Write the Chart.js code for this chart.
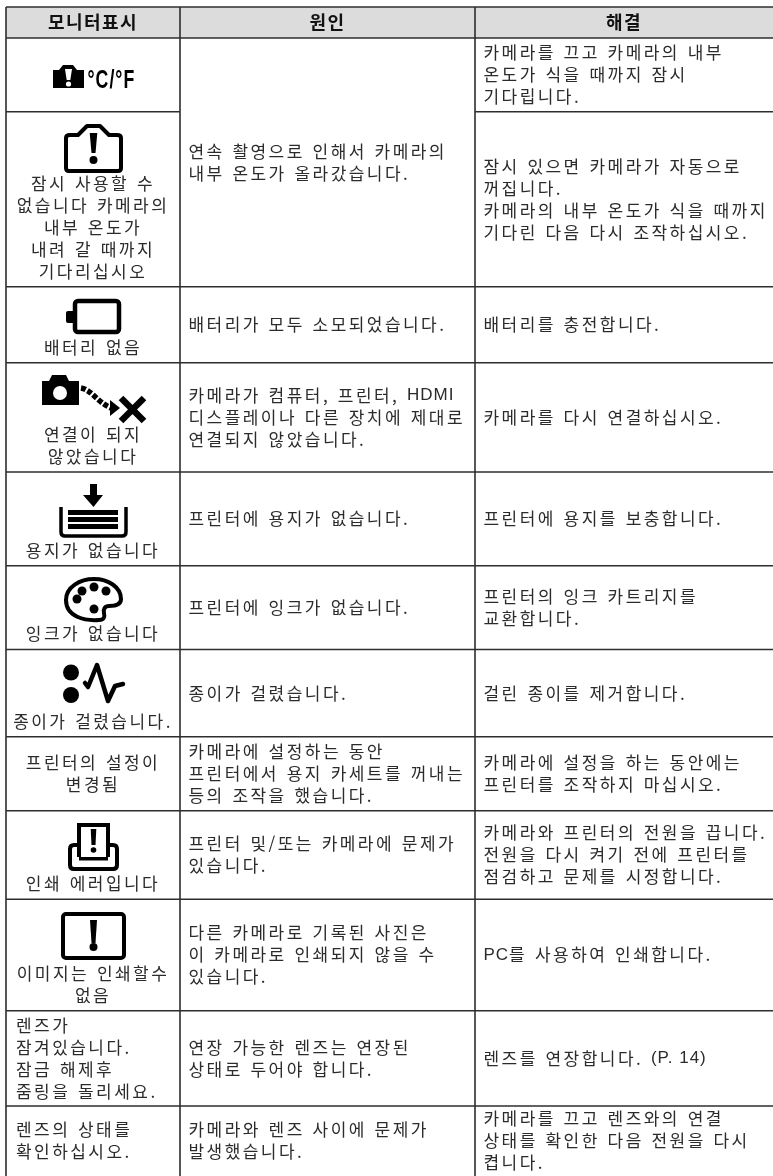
<!DOCTYPE html>
<html lang="ko">
<head>
<meta charset="utf-8">
<style>
    html, body { margin: 0; padding: 0; background: #fff; overflow: hidden; }
    .chart-container { position: relative; width: 773px; height: 1176px; }
</style>
</head>
<body>
<div class="chart-container">
    <canvas id="tableChart"></canvas>
</div>

<script src="https://cdn.jsdelivr.net/npm/chart.js"></script>

<script>
// Table content
const HEADERS = ['모니터표시', '원인', '해결'];

const MONITOR_LINES = [
    [],
    ['잠시 사용할 수', '없습니다 카메라의', '내부 온도가', '내려 갈 때까지', '기다리십시오'],
    ['배터리 없음'],
    ['연결이 되지', '않았습니다'],
    ['용지가 없습니다'],
    ['잉크가 없습니다'],
    ['종이가 걸렸습니다.'],
    ['프린터의 설정이', '변경됨'],
    ['인쇄 에러입니다'],
    ['이미지는 인쇄할수', '없음'],
    ['렌즈가', '잠겨있습니다.', '잠금 해제후', '줌링을 돌리세요.'],
    ['렌즈의 상태를', '확인하십시오.']
];

// null = merged with the row above
const CAUSE_LINES = [
    ['연속 촬영으로 인해서 카메라의', '내부 온도가 올라갔습니다.'],
    null,
    ['배터리가 모두 소모되었습니다.'],
    ['카메라가 컴퓨터, 프린터, HDMI', '디스플레이나 다른 장치에 제대로', '연결되지 않았습니다.'],
    ['프린터에 용지가 없습니다.'],
    ['프린터에 잉크가 없습니다.'],
    ['종이가 걸렸습니다.'],
    ['카메라에 설정하는 동안', '프린터에서 용지 카세트를 꺼내는', '등의 조작을 했습니다.'],
    ['프린터 및/또는 카메라에 문제가', '있습니다.'],
    ['다른 카메라로 기록된 사진은', '이 카메라로 인쇄되지 않을 수', '있습니다.'],
    ['연장 가능한 렌즈는 연장된', '상태로 두어야 합니다.'],
    ['카메라와 렌즈 사이에 문제가', '발생했습니다.']
];

const FIX_LINES = [
    ['카메라를 끄고 카메라의 내부', '온도가 식을 때까지 잠시', '기다립니다.'],
    ['잠시 있으면 카메라가 자동으로', '꺼집니다.', '카메라의 내부 온도가 식을 때까지', '기다린 다음 다시 조작하십시오.'],
    ['배터리를 충전합니다.'],
    ['카메라를 다시 연결하십시오.'],
    ['프린터에 용지를 보충합니다.'],
    ['프린터의 잉크 카트리지를', '교환합니다.'],
    ['걸린 종이를 제거합니다.'],
    ['카메라에 설정을 하는 동안에는', '프린터를 조작하지 마십시오.'],
    ['카메라와 프린터의 전원을 끕니다.', '전원을 다시 켜기 전에 프린터를', '점검하고 문제를 시정합니다.'],
    ['PC를 사용하여 인쇄합니다.'],
    ['렌즈를 연장합니다. (P. 14)'],
    ['카메라를 끄고 렌즈와의 연결', '상태를 확인한 다음 전원을 다시', '켭니다.']
];

// Column and row boundaries
const COLUMN_EDGES = [6, 180, 475, 773];
const ROW_EDGES = [7, 38, 111.7, 286.7, 362.7, 472, 565.7, 649.5, 736.7, 810.7, 899.3, 1010.7, 1106, 1176];

// Monitor column rows without an icon use these left-aligned rows
const LEFT_ALIGNED_ROWS = [10, 11];

const TEXT_COLOR = '#2b2b2b';
const RULE_COLOR = '#2e2e2e';
const LINE_PITCH = 22;

function disc(c, x, y, r) {
    c.beginPath();
    c.arc(x, y, r, 0, Math.PI * 2);
    c.fill();
}

function bang(c, x, top, bottom, halfTop, halfBottom, dotY, dotR) {
    c.beginPath();
    c.moveTo(x - halfTop, top);
    c.lineTo(x + halfTop, top);
    c.lineTo(x + halfBottom, bottom);
    c.lineTo(x - halfBottom, bottom);
    c.closePath();
    c.fill();
    disc(c, x, dotY, dotR);
}

// Icons are sketched in page units; each gets its own canvas used as a pointStyle
const ICONS = [
    { box: [52, 64, 33, 25], draw(c) {
        c.beginPath();
        c.moveTo(53, 70); c.lineTo(59, 70); c.lineTo(63, 65); c.lineTo(73, 65); c.lineTo(77, 70); c.lineTo(84, 70);
        c.lineTo(84, 88); c.lineTo(53, 88);
        c.closePath();
        c.fill();
        c.fillStyle = '#fff';
        bang(c, 68.5, 69, 80, 3.5, 1.8, 84, 2.6);
    } },
    { box: [62, 122, 63, 53], draw(c) {
        c.lineWidth = 4;
        c.lineJoin = 'round';
        c.beginPath();
        c.moveTo(66, 138); c.quadraticCurveTo(66, 135, 70, 135); c.lineTo(78, 135);
        c.lineTo(87, 126); c.lineTo(100, 126); c.lineTo(109, 135); c.lineTo(117, 135);
        c.quadraticCurveTo(121, 135, 121, 138); c.lineTo(121, 168);
        c.quadraticCurveTo(121, 171, 118, 171); c.lineTo(69, 171);
        c.quadraticCurveTo(66, 171, 66, 168);
        c.closePath();
        c.stroke();
        bang(c, 93.5, 133, 153, 3.8, 2, 160, 4);
    } },
    { box: [65, 298, 58, 38], draw(c) {
        c.beginPath();
        c.roundRect(66, 311, 9, 12, 2);
        c.fill();
        c.lineWidth = 4.5;
        c.beginPath();
        c.roundRect(75, 301, 44, 31, 3);
        c.stroke();
    } },
    { box: [41, 374, 106, 50], draw(c) {
        c.beginPath();
        c.moveTo(42, 381); c.lineTo(49, 381); c.lineTo(52, 375); c.lineTo(66, 375); c.lineTo(69, 381); c.lineTo(79, 381);
        c.lineTo(79, 405); c.lineTo(42, 405);
        c.closePath();
        c.fill();
        c.fillStyle = '#fff';
        disc(c, 60, 393, 7);
        c.fillStyle = '#000';
        c.lineWidth = 5.5;
        c.setLineDash([5, 2]);
        c.beginPath();
        c.moveTo(81, 388); c.bezierCurveTo(92, 390, 97, 402, 111, 408);
        c.stroke();
        c.setLineDash([]);
        c.beginPath();
        c.moveTo(110, 400); c.lineTo(120, 408); c.lineTo(110, 416);
        c.closePath();
        c.fill();
        c.lineWidth = 6.5;
        c.beginPath();
        c.moveTo(121, 398); c.lineTo(144, 421); c.moveTo(144, 398); c.lineTo(121, 421);
        c.stroke();
    } },
    { box: [58, 483, 70, 56], draw(c) {
        c.fillRect(90, 484, 7, 11);
        c.beginPath();
        c.moveTo(83, 495); c.lineTo(103, 495); c.lineTo(93.5, 507);
        c.closePath();
        c.fill();
        c.lineWidth = 3.5;
        c.beginPath();
        c.moveTo(61, 507); c.lineTo(61, 532);
        c.quadraticCurveTo(61, 536, 65, 536); c.lineTo(122, 536);
        c.quadraticCurveTo(126, 536, 126, 532); c.lineTo(126, 507);
        c.stroke();
        c.fillRect(68, 510, 50, 5);
        c.fillRect(68, 517, 50, 5);
        c.fillRect(68, 524, 50, 5);
    } },
    { box: [62, 575, 63, 49], draw(c) {
        c.lineWidth = 4;
        c.beginPath();
        c.moveTo(66, 600);
        c.bezierCurveTo(66, 587, 80, 579, 94, 579);
        c.bezierCurveTo(108, 579, 121, 587, 121, 599);
        c.bezierCurveTo(121, 606, 113, 606, 109, 606);
        c.bezierCurveTo(105, 606, 103, 609, 104, 613);
        c.bezierCurveTo(105, 617, 104, 620, 99, 620);
        c.bezierCurveTo(85, 621, 66, 617, 66, 600);
        c.closePath();
        c.stroke();
        disc(c, 77, 599, 4.5);
        disc(c, 82, 591, 4.5);
        disc(c, 94, 587, 4.5);
        disc(c, 106, 591, 4.5);
        disc(c, 94, 609, 4.5);
    } },
    { box: [61, 662, 65, 44], draw(c) {
        disc(c, 71, 672.5, 8);
        disc(c, 71, 695, 8);
        c.lineWidth = 4.5;
        c.lineCap = 'round';
        c.lineJoin = 'round';
        c.beginPath();
        c.moveTo(85, 683); c.lineTo(88, 687); c.lineTo(97, 665); c.lineTo(108, 701); c.lineTo(115, 686); c.lineTo(123, 684);
        c.stroke();
    } },
    { box: [67, 822, 53, 50], draw(c) {
        c.lineWidth = 4;
        c.beginPath();
        c.moveTo(79, 857); c.lineTo(79, 825); c.lineTo(108, 825); c.lineTo(108, 857);
        c.stroke();
        c.beginPath();
        c.moveTo(79, 845); c.lineTo(74, 845);
        c.quadraticCurveTo(70, 845, 70, 849); c.lineTo(70, 865);
        c.quadraticCurveTo(70, 869, 74, 869); c.lineTo(113, 869);
        c.quadraticCurveTo(117, 869, 117, 865); c.lineTo(117, 849);
        c.quadraticCurveTo(117, 845, 113, 845); c.lineTo(108, 845);
        c.stroke();
        c.fillRect(79, 857, 29, 3.5);
        bang(c, 93.5, 829, 845, 2.8, 2, 850, 2.8);
    } },
    { box: [60, 911, 67, 50], draw(c) {
        c.lineWidth = 4;
        c.beginPath();
        c.roundRect(63, 914, 61, 44, 3);
        c.stroke();
        bang(c, 93.5, 920, 943, 3.5, 2, 947, 4);
    } }
];

function buildIconCanvas(icon) {
    const [x, y, w, h] = icon.box;
    const canvas = document.createElement('canvas');
    canvas.width = w;
    canvas.height = h;
    const c = canvas.getContext('2d');
    c.fillStyle = '#000';
    c.strokeStyle = '#000';
    c.translate(-x, -y);
    icon.draw(c);
    return canvas;
}

const iconCanvases = ICONS.map(buildIconCanvas);
const iconPoints = ICONS.map(icon => ({
    x: icon.box[0] + icon.box[2] / 2,
    y: icon.box[1] + icon.box[3] / 2
}));

// Rules of the table. Row edges stop at the merged cause cell.
function buildRuleDatasets() {
    const rules = [];
    const right = COLUMN_EDGES[COLUMN_EDGES.length - 1];
    const addRule = (x1, y1, x2, y2) => rules.push({
        data: [{ x: x1, y: y1 }, { x: x2, y: y2 }],
        borderColor: RULE_COLOR,
        borderWidth: 1.6,
        pointRadius: 0,
        fill: false
    });
    ROW_EDGES.slice(0, -1).forEach((edge, i) => {
        const rowBelow = i - 1;
        if (rowBelow >= 0 && CAUSE_LINES[rowBelow] === null) {
            addRule(COLUMN_EDGES[0], edge, COLUMN_EDGES[1], edge);
            addRule(COLUMN_EDGES[2], edge, right, edge);
        } else {
            addRule(COLUMN_EDGES[0], edge, right, edge);
        }
    });
    COLUMN_EDGES.slice(0, -1).forEach(x => addRule(x, ROW_EDGES[0], x, ROW_EDGES[ROW_EDGES.length - 1]));
    return rules;
}

// Hangul gets the wide spacing of the original, latin runs are set in Liberation Sans
const LATIN_RUN = /([A-Za-z(][A-Za-z0-9(). ]*[A-Za-z0-9)])/;

function splitRuns(line) {
    return line.split(LATIN_RUN).filter(Boolean).map(text => ({ text, latin: LATIN_RUN.test(text) }));
}

function applyRunStyle(c, run, bold) {
    if (run.latin) {
        c.font = '17px "Liberation Sans"';
        c.letterSpacing = '1px';
        c.wordSpacing = '0px';
    } else if (bold) {
        c.font = 'bold 18px "Noto Sans CJK KR"';
        c.letterSpacing = '1.4px';
        c.wordSpacing = '1.5px';
    } else {
        c.font = '17px "Noto Sans CJK KR"';
        c.letterSpacing = '2.45px';
        c.wordSpacing = '1.5px';
    }
}

function drawLine(c, line, x, y, align, bold) {
    const runs = splitRuns(line);
    runs.forEach(run => {
        applyRunStyle(c, run, bold);
        run.width = c.measureText(run.text).width;
    });
    const total = runs.reduce((sum, run) => sum + run.width, 0);
    let cursor = align === 'center' ? x - total / 2 : x;
    runs.forEach(run => {
        applyRunStyle(c, run, bold);
        c.fillText(run.text, cursor, y);
        cursor += run.width;
    });
}

const tableTextPlugin = {
    id: 'tableText',
    afterDatasetsDraw(chart) {
        const c = chart.ctx;
        const xs = chart.scales.x;
        const ys = chart.scales.y;
        const columnCenter = i => (COLUMN_EDGES[i] + COLUMN_EDGES[i + 1]) / 2;

        c.save();
        c.fillStyle = TEXT_COLOR;
        c.textBaseline = 'middle';
        c.textAlign = 'left';

        const drawBlock = (lines, xValue, align, top, bottom, valign) => {
            const count = lines.length;
            const firstY = valign === 'bottom'
                ? bottom - 15.5 - (count - 1) * LINE_PITCH
                : (top + bottom) / 2 - (count - 1) * LINE_PITCH / 2;
            lines.forEach((line, i) => {
                drawLine(c, line, xs.getPixelForValue(xValue), ys.getPixelForValue(firstY + i * LINE_PITCH), align, false);
            });
        };

        // header
        c.fillStyle = '#111';
        HEADERS.forEach((label, i) => {
            drawLine(c, label, xs.getPixelForValue(columnCenter(i)), ys.getPixelForValue((ROW_EDGES[0] + ROW_EDGES[1]) / 2 - 0.5), 'center', true);
        });
        c.fillStyle = TEXT_COLOR;

        // body
        MONITOR_LINES.forEach((lines, r) => {
            const top = ROW_EDGES[r + 1];
            const bottom = ROW_EDGES[r + 2];
            const hasIcon = r !== 7 && r !== 10 && r !== 11;
            if (LEFT_ALIGNED_ROWS.includes(r)) {
                drawBlock(lines, 16, 'left', top, bottom, 'center');
            } else {
                drawBlock(lines, columnCenter(0), 'center', top, bottom, hasIcon ? 'bottom' : 'center');
            }
        });
        CAUSE_LINES.forEach((lines, r) => {
            if (lines === null) return;
            const span = CAUSE_LINES[r + 1] === null ? 2 : 1;
            drawBlock(lines, 188.5, 'left', ROW_EDGES[r + 1], ROW_EDGES[r + 1 + span], 'center');
        });
        FIX_LINES.forEach((lines, r) => {
            drawBlock(lines, 483.5, 'left', ROW_EDGES[r + 1], ROW_EDGES[r + 2], 'center');
        });

        // temperature mark next to the first icon, narrowed
        c.fillStyle = '#000';
        c.font = 'bold 26px "Liberation Sans"';
        c.letterSpacing = '1.5px';
        c.wordSpacing = '0px';
        c.textBaseline = 'alphabetic';
        c.translate(xs.getPixelForValue(87.5), ys.getPixelForValue(87.5));
        c.scale(0.68, 1);
        c.fillText('°C/°F', 0, 0);
        c.restore();
    }
};

const ctx = document.getElementById('tableChart').getContext('2d');
const chart = new Chart(ctx, {
    type: 'line',
    data: {
        datasets: [
            {
                data: iconPoints,
                showLine: false,
                pointStyle: context => iconCanvases[context.dataIndex],
                pointRadius: 10
            },
            ...buildRuleDatasets(),
            {
                // header band
                data: [
                    { x: COLUMN_EDGES[0], y: ROW_EDGES[1] },
                    { x: COLUMN_EDGES[3], y: ROW_EDGES[1] }
                ],
                borderWidth: 0,
                pointRadius: 0,
                backgroundColor: '#dcdcdc',
                fill: { value: ROW_EDGES[0] }
            }
        ]
    },
    options: {
        responsive: true,
        maintainAspectRatio: false,
        animation: false,
        layout: { padding: 0, autoPadding: false },
        plugins: {
            legend: { display: false },
            tooltip: { enabled: false },
            title: { display: false }
        },
        scales: {
            x: { type: 'linear', display: false, min: 0, max: 773 },
            y: { type: 'linear', display: false, min: 0, max: 1176, reverse: true }
        }
    },
    plugins: [tableTextPlugin]
});
</script>
</body>
</html>
